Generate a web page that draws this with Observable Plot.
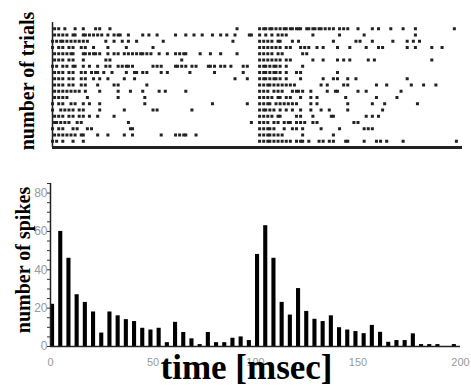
<!DOCTYPE html>
<html>
<head>
<meta charset="utf-8">
<script src="https://cdn.jsdelivr.net/npm/d3@7"></script>
<script src="https://cdn.jsdelivr.net/npm/@observablehq/plot@0.6"></script>
<style>
  html, body { margin: 0; padding: 0; background: #fff; }
  #wrap { position: relative; width: 471px; height: 387px; background: #fff; overflow: hidden; }
  #top, #bottom { position: absolute; left: 0; }
  #top { top: 0; }
  #bottom { top: 160px; }
</style>
</head>
<body>
<div id="wrap"><div id="top"></div><div id="bottom"></div></div>
<script>
// ---- Raster: spike times (ms) per trial, top row first ----
const trial01 = [2,4,7,12,16,22,24,29,91,102,104,105,107,108,110,112,114,115,117,118,120,121,122,125,126,128,129,131,132,134,136,138,141,143,145,150,157,160,166,172,178,197];
const trial02 = [2,4,6,8,11,12,16,17,19,21,23,25,28,31,33,34,38,45,48,52,61,66,70,74,79,83,86,90,97,98,102,105,108,111,113,115,128,141,153,178];
const trial03 = [1,3,5,6,8,10,12,14,16,18,27,31,35,38,42,55,89,102,104,106,108,111,112,118,121,138,149,151,157,167,174,177,180];
const trial04 = [1,4,6,9,11,15,17,21,28,37,50,102,104,106,108,110,112,115,117,122,124,126,130,133,140,146,154,160,162,174,178,186,191];
const trial05 = [2,4,6,8,10,11,16,17,19,21,22,24,28,31,33,36,38,40,42,44,45,47,49,53,57,61,63,65,66,73,78,83,91,102,104,106,108,111,113,123,125];
const trial06 = [2,4,6,9,11,16,27,29,64,102,104,106,108,110,112,115,117,128,133,140,143,146,155,158,186];
const trial07 = [1,3,6,8,11,12,16,19,23,27,29,33,35,37,38,40,50,52,54,61,62,64,66,69,71,77,78,80,83,85,88,94,96,102,104,105,107,109,110,112,115,123];
const trial08 = [2,4,6,9,11,15,17,20,22,23,26,30,37,41,42,45,47,54,57,68,80,94,102,104,105,107,109,110,112,115,120,122,140];
const trial09 = [2,4,6,9,11,15,17,21,24,28,36,41,90,96,102,104,105,107,109,110,112,115,122,133,138,140,145,149,174];
const trial10 = [2,4,6,9,11,15,17,23,31,33,47,102,104,106,107,109,111,113,115,117,119,132,135,143,145,159,164,176,182,188];
const trial11 = [2,4,6,8,10,12,14,17,24,33,39,45,53,56,66,102,104,106,109,111,113,118,120,121,123,127,135,139,140,150,154,171];
const trial12 = [2,4,6,8,18,33,46,102,104,106,108,111,112,115,117,122,127,130,144,159,169];
const trial13 = [1,4,6,10,12,16,19,24,46,79,96,102,104,106,107,110,112,114,116,118,120,127,130,145,157,163,179];
const trial14 = [1,5,7,9,11,14,16,24,36,50,52,69,102,104,105,107,109,112,115,118,122,127,132,136,145,162];
const trial15 = [2,4,6,9,11,14,16,19,23,31,102,104,106,108,111,112,120,122,128,137,138,154,157,160];
const trial16 = [2,3,5,7,9,13,15,38,98,102,104,106,109,111,114,116,117,120,122,124,128,130,148,150];
const trial17 = [1,4,6,11,13,18,20,39,40,102,104,106,107,109,114,118,120,123,132,141,153,155,157];
const trial18 = [2,4,6,8,10,12,15,16,23,28,36,40,54,61,63,65,66,71,102,104,106,107,109,111,113,123,138];
const trial19 = [1,3,6,11,16,102,104,106,107,109,111,113,115,117,120,122,123,126,131,133,136,138,144,145,153,159,161,164,172,198];
const trials = [trial01,trial02,trial03,trial04,trial05,trial06,trial07,trial08,trial09,trial10,
                trial11,trial12,trial13,trial14,trial15,trial16,trial17,trial18,trial19];

// ---- Histogram: bin start (ms) and spike counts ----
const binStart = [0,4,8,12,16,20,24,28,32,36,40,44,48,52,56,60,64,68,72,76,80,84,88,92,96,
                  100,104,108,112,116,120,124,128,132,136,140,144,148,152,156,160,164,168,172,176,180,184,188,192,196];
const spikeCounts = [22,60,46,27,23,18,7,18,16,14,13,9.5,8.6,9.5,2,12.6,7.3,4,1,7.3,2,2,4.3,5,3.1,
                     48,63,46,23,16.4,30.2,18.3,14.2,13,16,9.8,8.6,7.8,6.7,11,7.4,2.2,3.1,3.1,6.6,1,1,1,0,1];

const xTicks = [0,50,100,150,200];
const yTicks = [0,20,40,60,80];
const yMinorTicks = [0,5,10,15,20,25,30,35,40,45,50,55,60,65,70,75,80,85];

const labelTrials = "number of trials";
const labelSpikes = "number of spikes";
const labelTime = "time [msec]";

const serif = "'Liberation Serif', 'Times New Roman', serif";
const sans = "'Liberation Sans', Arial, sans-serif";

const raster = trials.flatMap((spikes, i) => spikes.map(t => ({trial: i + 1, t})));
const hist = binStart.map((s, i) => ({start: s, count: spikeCounts[i]}));

const topPlot = Plot.plot({
  width: 471, height: 160,
  marginLeft: 50, marginRight: 11, marginTop: 22, marginBottom: 13,
  style: {background: "#fff", fontFamily: sans},
  x: {domain: [0, 200], axis: null},
  y: {domain: [0, 20], reverse: true, axis: null},
  marks: [
    Plot.dot(raster, {x: "t", y: "trial", symbol: "square", r: 1.7, fill: "#222", stroke: null}),
    Plot.ruleX([0], {y1: 0, y2: 20, dx: 2, stroke: "#222", strokeWidth: 1.5}),
    Plot.ruleY([20], {x1: 0, x2: 200, dx: 2, stroke: "#222", strokeWidth: 3}),
    Plot.text([labelTrials], {text: d => d, frameAnchor: "left", rotate: -90, textAnchor: "middle",
      lineAnchor: "bottom", dx: -17, dy: -4, fontFamily: serif, fontWeight: "bold", fontSize: 20, fill: "#000"})
  ]
});
document.getElementById("top").appendChild(topPlot);

const bottomPlot = Plot.plot({
  width: 471, height: 227,
  marginLeft: 50, marginRight: 11, marginTop: 23, marginBottom: 41,
  style: {background: "#fff", fontFamily: sans},
  x: {type: "linear", domain: [0, 200]},
  y: {type: "linear", domain: [0, 85]},
  marks: [
    Plot.axisX({ticks: xTicks, tickSize: 0, tickPadding: 12, fill: "#999", fontSize: 11, label: null}),
    Plot.axisY({ticks: yTicks, tickSize: 0, tickPadding: 3, fill: "#999", fontSize: 12, label: null}),
    Plot.axisY({ticks: yMinorTicks, tickSize: 3, tickFormat: () => "", stroke: "#333", label: null}),
    Plot.rectY(hist, {x1: "start", x2: d => d.start + 2, y: "count", fill: "#000"}),
    Plot.ruleX([0], {y1: 0, y2: 85, stroke: "#222", strokeWidth: 1.5}),
    Plot.ruleY([0], {x1: 0, x2: 200, stroke: "#222", strokeWidth: 1.5}),
    Plot.text([labelSpikes], {text: d => d, frameAnchor: "left", rotate: -90, textAnchor: "middle",
      lineAnchor: "bottom", dx: -21, dy: -5, fontFamily: serif, fontWeight: "bold", fontSize: 20, fill: "#000"}),
    Plot.text([labelTime], {text: d => d, frameAnchor: "bottom", textAnchor: "middle",
      lineAnchor: "bottom", dx: -9, dy: 32, fontFamily: serif, fontWeight: "bold", fontSize: 35, fill: "#000"})
  ]
});
document.getElementById("bottom").appendChild(bottomPlot);
</script>
</body>
</html>
